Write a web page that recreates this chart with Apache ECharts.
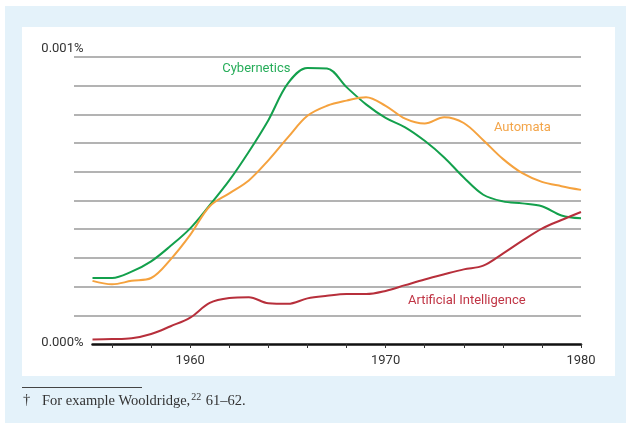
<!DOCTYPE html>
<html>
<head>
<meta charset="utf-8">
<script src="https://cdn.jsdelivr.net/npm/echarts@6/dist/echarts.min.js"></script>
<style>
  html, body { margin: 0; padding: 0; background: #fff; }
  #chart { width: 626px; height: 423px; }
</style>
</head>
<body>
<div id="chart"></div>
<script>
// values are in units of 0.0001 % (so 10 = 0.001%)
const years = [];
for (let y = 1955; y <= 1980; y++) years.push(String(y));

const cybernetics = [2.3, 2.3, 2.52, 2.88, 3.42, 4.03, 4.84, 5.7, 6.7, 7.8, 9.08, 9.62, 9.6, 8.95, 8.35,
  7.88, 7.55, 7.08, 6.5, 5.8, 5.2, 4.97, 4.9, 4.8, 4.48, 4.38];
const automata = [2.2, 2.08, 2.2, 2.3, 2.95, 3.8, 4.8, 5.25, 5.7, 6.4, 7.2, 7.95, 8.3, 8.48, 8.6,
  8.3, 7.85, 7.68, 7.9, 7.7, 7.1, 6.45, 5.95, 5.65, 5.5, 5.37];
const artificialIntelligence = [0.16, 0.17, 0.2, 0.35, 0.62, 0.92, 1.43, 1.6, 1.63, 1.42, 1.4, 1.59, 1.68, 1.74, 1.74,
  1.85, 2.05, 2.25, 2.43, 2.6, 2.73, 3.15, 3.6, 4.02, 4.32, 4.6];

// where the series names sit: [year index, value, pixel nudge x]
const cyberLabelAt = [8, 9.58, 7.5];
const automataLabelAt = [22, 7.53, 0];
const aiLabelAt = [19, 1.5, 3];

const yMin = 0, yMax = 10, yStep = 1;

const chart = echarts.init(document.getElementById('chart'));

function nameMark(at, text, color) {
  return {
    symbol: 'circle',
    symbolSize: 0,
    silent: true,
    data: [{ coord: [at[0], at[1]] }],
    label: {
      show: true,
      position: 'inside',
      offset: [at[2], 0],
      formatter: text,
      color: color,
      fontFamily: 'Roboto',
      fontSize: 13
    }
  };
}

const serif = '"Liberation Serif", "DejaVu Serif", serif';

const option = {
  animation: false,
  graphic: [
    { type: 'rect', z: -10, shape: { x: 5, y: 6, width: 621, height: 417 }, style: { fill: '#e4f2fa' } },
    { type: 'rect', z: -9, shape: { x: 22, y: 27, width: 593, height: 349 }, style: { fill: '#ffffff' } },
    { type: 'line', z: 1, shape: { x1: 22, y1: 387.5, x2: 142, y2: 387.5 }, style: { stroke: '#444', lineWidth: 1 } },
    { type: 'text', x: 23, y: 393, style: { text: '†', font: '14.5px ' + serif, fill: '#333' } },
    {
      type: 'text', x: 42, y: 392,
      style: {
        text: '{m|For example Wooldridge,}{s|22}{m| 61–62.}',
        fill: '#333',
        rich: {
          m: { fontFamily: serif, fontSize: 14.5, color: '#333', lineHeight: 18 },
          s: { fontFamily: serif, fontSize: 10, color: '#333', padding: [0, 1, 8, 1], lineHeight: 18 }
        }
      }
    }
  ],
  grid: [
    { left: 74, right: 45, top: 57, bottom: 79 },
    { left: 92.5, right: 45, top: 57, bottom: 79 }
  ],
  xAxis: [
    { gridIndex: 0, type: 'category', data: years, boundaryGap: false, show: false },
    {
      gridIndex: 1, type: 'category', data: years, boundaryGap: false,
      axisLine: { lineStyle: { color: '#111', width: 2.5 } },
      axisTick: {
        show: true,
        interval: (i, v) => Number(v) % 2 === 0,
        length: 4,
        lineStyle: { color: '#333', width: 1 }
      },
      axisLabel: {
        interval: (i, v) => Number(v) % 10 === 0,
        color: '#333',
        fontFamily: 'Roboto',
        fontSize: 13,
        margin: 10
      },
      splitLine: { show: false }
    }
  ],
  yAxis: [
    {
      gridIndex: 0, type: 'value', min: yMin, max: yMax, interval: yStep,
      axisLine: { show: false }, axisTick: { show: false }, axisLabel: { show: false },
      splitLine: { show: true, showMinLine: false, lineStyle: { color: '#9a9a9a', width: 1.5 } }
    },
    {
      gridIndex: 1, type: 'value', min: yMin, max: yMax, interval: yStep,
      axisLine: { show: false }, axisTick: { show: false },
      splitLine: { show: false },
      axisLabel: {
        margin: 9,
        color: '#333',
        fontFamily: 'Roboto',
        fontSize: 13,
        formatter: v => {
          if (v === yMax) return '{t|' + (v / 10000).toFixed(3) + '%}';
          if (v === yMin) return '{b|' + (v / 10000).toFixed(3) + '%}';
          return '';
        },
        rich: {
          t: { padding: [0, 0, 16, 0], fontFamily: 'Roboto', fontSize: 13, color: '#333' },
          b: { padding: [0, 0, 2, 0], fontFamily: 'Roboto', fontSize: 13, color: '#333' }
        }
      }
    }
  ],
  series: [
    {
      name: 'Cybernetics', type: 'line', xAxisIndex: 1, yAxisIndex: 1,
      data: cybernetics, smooth: 0.35, symbol: 'none',
      lineStyle: { color: '#13a04c', width: 2 },
      markPoint: nameMark(cyberLabelAt, 'Cybernetics', '#27ad5a')
    },
    {
      name: 'Automata', type: 'line', xAxisIndex: 1, yAxisIndex: 1,
      data: automata, smooth: 0.35, symbol: 'none',
      lineStyle: { color: '#f5a23e', width: 2 },
      markPoint: nameMark(automataLabelAt, 'Automata', '#f3a54a')
    },
    {
      name: 'Artificial Intelligence', type: 'line', xAxisIndex: 1, yAxisIndex: 1,
      data: artificialIntelligence, smooth: 0.35, symbol: 'none',
      lineStyle: { color: '#b72f3b', width: 2 },
      markPoint: nameMark(aiLabelAt, 'Artificial Intelligence', '#c03545')
    }
  ]
};

chart.setOption(option);
</script>
</body>
</html>
